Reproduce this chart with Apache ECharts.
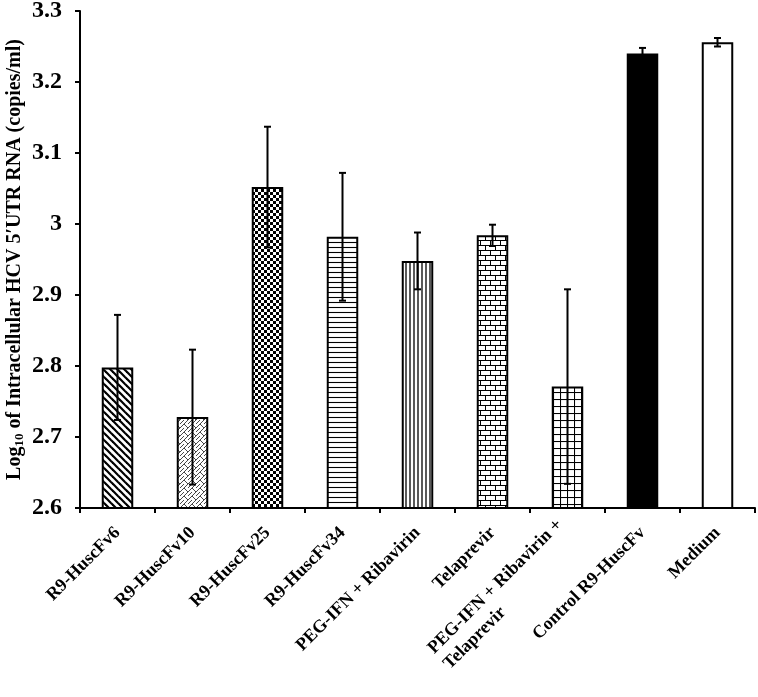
<!DOCTYPE html>
<html lang="en">
<head>
    <meta charset="UTF-8">
    <title>HCV 5'UTR RNA</title>
    <script src="https://cdn.jsdelivr.net/npm/echarts@6/dist/echarts.min.js"></script>
    <style>
        html, body { margin: 0; padding: 0; background: #fff; }
    </style>
</head>
<body>
<div id="main" style="width: 758px;height:697px;"></div>
<script>

    var categories = ['R9-HuscFv6', 'R9-HuscFv10', 'R9-HuscFv25', 'R9-HuscFv34',
        'PEG-IFN + Ribavirin', 'Telaprevir', 'PEG-IFN + Ribavirin +\nTelaprevir',
        'Control R9-HuscFv', 'Medium'];
    var means = [2.798, 2.728, 3.052, 2.982, 2.948, 2.984, 2.771, 3.240, 3.256];
    var errors = [0.074, 0.095, 0.085, 0.090, 0.040, 0.015, 0.137, 0.008, 0.006];
    var yMin = 2.6, yMax = 3.3, yStep = 0.1;

    var serif = '"Times New Roman", "Liberation Serif", serif';

    // hatch tiles drawn on small canvases
    function tile(w, h, draw) {
        var c = document.createElement('canvas');
        c.width = w;
        c.height = h;
        var ctx = c.getContext('2d');
        ctx.fillStyle = '#fff';
        ctx.fillRect(0, 0, w, h);
        ctx.strokeStyle = '#000';
        ctx.fillStyle = '#000';
        draw(ctx, w, h);
        return {image: c, repeat: 'repeat'};
    }

    function line(ctx, x1, y1, x2, y2, lw) {
        ctx.lineWidth = lw;
        ctx.beginPath();
        ctx.moveTo(x1, y1);
        ctx.lineTo(x2, y2);
        ctx.stroke();
    }

    var patterns = [
        // wide downward diagonal
        tile(7, 7, function (ctx, w, h) {
            line(ctx, -1, -1, w + 1, h + 1, 2.2);
            line(ctx, -w - 1, -1, 1, h + 1, 2.2);
            line(ctx, w - 1, -1, 2 * w + 1, h + 1, 2.2);
        }),
        // weave
        tile(8, 8, function (ctx, w, h) {
            ctx.strokeStyle = '#333';
            line(ctx, 0, h, w, 0, 0.9);
            line(ctx, 0, 0, w / 2, h / 2, 0.9);
            line(ctx, w / 2, h, w, h / 2 + 0, 0.9);
        }),
        // small checker
        tile(6, 6, function (ctx) {
            ctx.fillRect(0, 0, 3, 3);
            ctx.fillRect(3, 3, 3, 3);
        }),
        // horizontal lines
        tile(4, 5, function (ctx, w) {
            line(ctx, 0, 2.5, w, 2.5, 1.1);
        }),
        // vertical lines
        tile(4, 4, function (ctx, w, h) {
            line(ctx, 2, 0, 2, h, 1.3);
        }),
        // bricks
        tile(10, 10, function (ctx, w, h) {
            line(ctx, 0, 0.5, w, 0.5, 1);
            line(ctx, 0, 5.5, w, 5.5, 1);
            line(ctx, 0.5, 0, 0.5, 5, 1);
            line(ctx, 5.5, 5, 5.5, 10, 1);
        }),
        // grid
        tile(7, 7, function (ctx, w, h) {
            line(ctx, 0.5, 0, 0.5, h, 1.1);
            line(ctx, 0, 0.5, w, 0.5, 1.1);
        }),
        '#000',
        '#fff'
    ];

    var barData = means.map(function (v, i) {
        return {value: v, itemStyle: {color: patterns[i]}};
    });

    var errData = means.map(function (v, i) {
        return [i, v - errors[i], v + errors[i]];
    });

    var myChart = echarts.init(document.getElementById('main'));

    var option = {
        backgroundColor: '#fff',
        animation: false,
        textStyle: {fontFamily: serif, color: '#000'},
        grid: {left: 80, right: 3, top: 11, bottom: 189, containLabel: false, outerBoundsMode: 'none'},
        xAxis: {
            type: 'category',
            data: categories,
            axisLine: {lineStyle: {color: '#000', width: 2}},
            axisTick: {show: true, length: 5, lineStyle: {color: '#000', width: 2}},
            axisLabel: {
                rotate: 45,
                interval: 0,
                margin: 22,
                color: '#000',
                fontFamily: serif,
                fontWeight: 'bold',
                fontSize: 18,
                formatter: function (v) {
                    return v.split('\n').map(function (s) {
                        return '{l|' + s + '}';
                    }).join('\n');
                },
                rich: {
                    l: {
                        align: 'left',
                        fontFamily: serif,
                        fontWeight: 'bold',
                        fontSize: 18,
                        color: '#000',
                        lineHeight: 22
                    }
                }
            }
        },
        yAxis: {
            type: 'value',
            min: yMin,
            max: yMax,
            interval: yStep,
            splitLine: {show: false},
            axisLine: {show: true, lineStyle: {color: '#000', width: 2}},
            axisTick: {show: true, length: 5, lineStyle: {color: '#000', width: 2}},
            axisLabel: {
                margin: 18,
                color: '#000',
                fontFamily: serif,
                fontWeight: 'bold',
                fontSize: 24,
                formatter: function (v) {
                    return String(Math.round(v * 10) / 10);
                }
            },
            name: '{n|Log}{s|10}{n| of Intracellular HCV 5\u2032UTR RNA (copies/ml)}',
            nameLocation: 'middle',
            nameGap: 54,
            nameMoveOverlap: false,
            nameTextStyle: {
                rich: {
                    n: {fontFamily: serif, fontWeight: 'bold', fontSize: 20, color: '#000', lineHeight: 22},
                    s: {fontFamily: serif, fontWeight: 'bold', fontSize: 13, color: '#000',
                        lineHeight: 22, verticalAlign: 'bottom', padding: [8, 0, 0, 0]}
                }
            }
        },
        series: [
            {
                type: 'bar',
                data: barData,
                barWidth: '42%',
                itemStyle: {borderColor: '#000', borderWidth: 2}
            },
            {
                type: 'custom',
                data: errData,
                z: 5,
                renderItem: function (params, api) {
                    var i = api.value(0);
                    var lo = api.coord([i, api.value(1)]);
                    var hi = api.coord([i, api.value(2)]);
                    var cap = 3.5;
                    var style = {stroke: '#000', lineWidth: 2};
                    return {
                        type: 'group',
                        children: [
                            {type: 'line', shape: {x1: hi[0], y1: hi[1], x2: lo[0], y2: lo[1]}, style: style},
                            {type: 'line', shape: {x1: hi[0] - cap, y1: hi[1], x2: hi[0] + cap, y2: hi[1]}, style: style},
                            {type: 'line', shape: {x1: lo[0] - cap, y1: lo[1], x2: lo[0] + cap, y2: lo[1]}, style: style}
                        ]
                    };
                }
            }
        ]
    };

    myChart.setOption(option);

</script>
</body>
</html>
